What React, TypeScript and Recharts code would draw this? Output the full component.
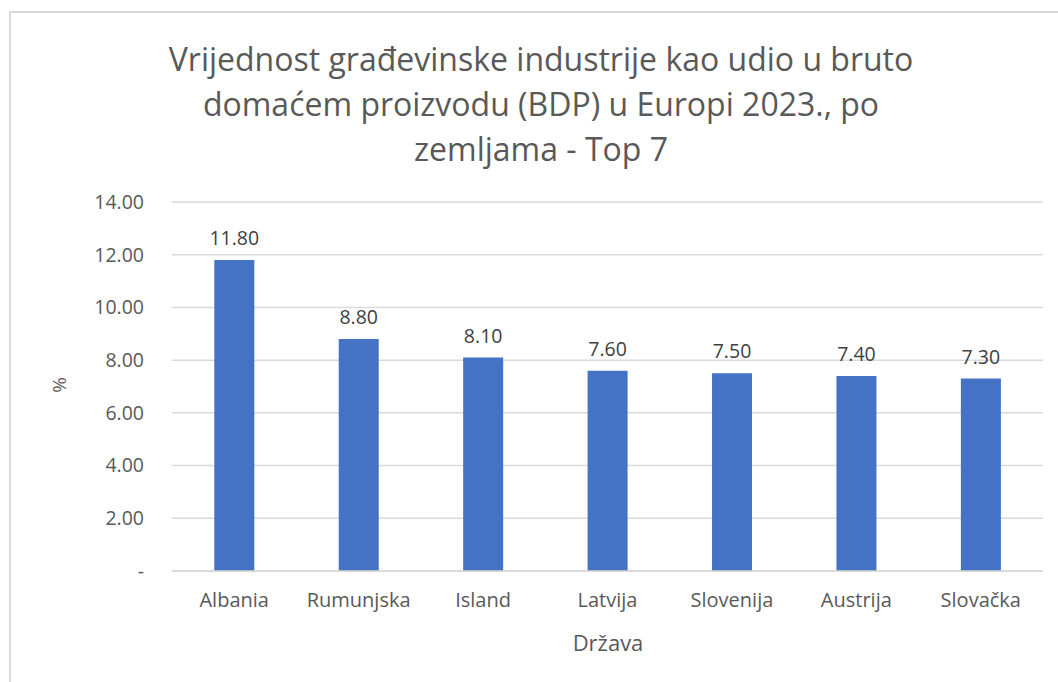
import React from 'react';
import { BarChart, Bar, XAxis, YAxis, LabelList, CartesianGrid } from 'recharts';

const countries = ['Albania', 'Rumunjska', 'Island', 'Latvija', 'Slovenija', 'Austrija', 'Slovačka'];
const shares = [11.8, 8.8, 8.1, 7.6, 7.5, 7.4, 7.3];
const yTicks = [0, 2, 4, 6, 8, 10, 12, 14];
const titleLines = [
    'Vrijednost građevinske industrije kao udio u bruto',
    'domaćem proizvodu (BDP) u Europi 2023., po',
    'zemljama - Top 7',
];

const FONT = '"Open Sans", "Noto Sans", sans-serif';

const fmt = (v: number) => (v === 0 ? '-' : v.toFixed(2));

const App: React.FC = () => {
    const data = countries.map((c, i) => ({ country: c, value: shares[i] }));

    return (
        <div style={{ position: 'absolute', left: 0, top: 0, width: 1058, height: 682, background: '#fff', fontFamily: FONT, overflow: 'hidden' }}>
            {/* chart frame */}
            <div style={{ position: 'absolute', left: 9, top: 11, width: 1100, height: 700, border: '2px solid #d9d9d9' }} />

            {titleLines.map((line, i) => (
                <div
                    key={i}
                    style={{
                        position: 'absolute', left: 0, width: 1082, top: 36 + i * 45,
                        textAlign: 'center', fontSize: 32, color: '#595959', lineHeight: '46px',
                    }}
                >
                    {line}
                </div>
            ))}

            <div style={{ position: 'absolute', left: 51, top: 372, fontSize: 19, color: '#595959', transform: 'rotate(-90deg)' }}>%</div>
            <div style={{ position: 'absolute', left: 0, width: 1216, top: 627, textAlign: 'center', fontSize: 22, color: '#595959' }}>Država</div>

            <div style={{ position: 'absolute', left: 0, top: 0 }}>
                <BarChart
                    width={1058}
                    height={682}
                    data={data}
                    margin={{ top: 202, right: 15, bottom: 81, left: 72 }}
                    barCategoryGap="34%"
                >
                    <CartesianGrid vertical={false} stroke="#d9d9d9" strokeWidth={1.5} />
                    <XAxis
                        dataKey="country"
                        height={30}
                        axisLine={{ stroke: '#d9d9d9', strokeWidth: 1.5 }}
                        tickLine={false}
                        tick={{ fill: '#595959', fontSize: 20, fontFamily: FONT }}
                        tickMargin={16}
                        interval={0}
                    />
                    <YAxis
                        width={100}
                        domain={[0, 14]}
                        ticks={yTicks}
                        tickFormatter={fmt}
                        axisLine={false}
                        tickLine={false}
                        tick={{ fill: '#595959', fontSize: 19.5, fontFamily: FONT }}
                        tickMargin={22}
                    />
                    <Bar dataKey="value" fill="#4472c4" isAnimationActive={false}>
                        <LabelList
                            dataKey="value"
                            position="top"
                            offset={15}
                            formatter={(v: any) => Number(v).toFixed(2)}
                            style={{ fill: '#404040', fontSize: 19.5, fontFamily: FONT }}
                        />
                    </Bar>
                </BarChart>
            </div>
        </div>
    );
};

export default App;
